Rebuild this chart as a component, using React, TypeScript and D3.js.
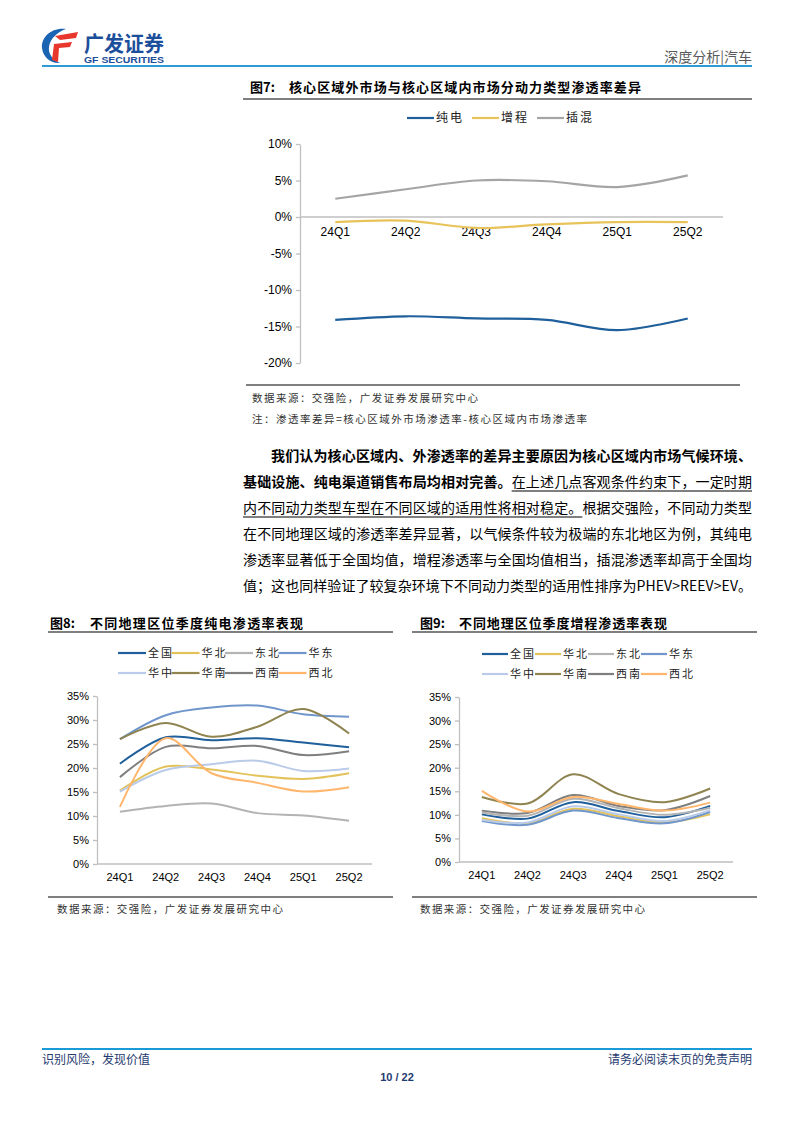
import React, { useEffect, useRef } from 'react';
import * as d3 from 'd3';

// page is photographed at 794 x 1123
const PAGE_W = 794;
const PAGE_H = 1123;

const quarters = ['24Q1', '24Q2', '24Q3', '24Q4', '25Q1', '25Q2'];

// fig 7: difference of penetration rate (outside core - inside core), %
const fig7Ticks = [10, 5, 0, -5, -10, -15, -20];
const diffBev = [-14.1, -13.6, -13.9, -14.1, -15.5, -13.9];
const diffErev = [-0.7, -0.5, -1.5, -1.0, -0.7, -0.7];
const diffPhev = [2.5, 3.8, 5.0, 4.9, 4.1, 5.7];
const fig7Names = ['纯电', '增程', '插混'];
const fig7Colors = ['#1f5f9b', '#e8c35a', '#a5a5a5'];

// fig 8 / fig 9 share regions and colours
const regions = ['全国', '华北', '东北', '华东', '华中', '华南', '西南', '西北'];
const regionColors = ['#1f5f9b', '#e3c25a', '#b3b3b3', '#7096cb', '#b9cbe8', '#8f8350', '#7f7f7f', '#ffb66c'];
const regionTicks = [35, 30, 25, 20, 15, 10, 5, 0];

// fig 8: BEV penetration by region, %
const evNation = [20.9, 26.4, 25.8, 26.2, 25.3, 24.3];
const evNorth = [15.3, 20.3, 19.7, 18.4, 17.7, 18.9];
const evNortheast = [10.9, 12.1, 12.6, 10.6, 10.1, 9.0];
const evEast = [26.0, 31.0, 32.6, 33.0, 31.2, 30.7];
const evCentral = [15.1, 19.6, 20.8, 21.5, 19.4, 19.9];
const evSouth = [26.0, 29.4, 26.5, 28.6, 32.3, 27.2];
const evSouthwest = [18.1, 24.4, 24.1, 24.6, 22.7, 23.5];
const evNorthwest = [11.9, 26.2, 18.9, 16.9, 15.1, 16.0];

// fig 9: EREV penetration by region, %
const reevNation = [10.1, 9.2, 12.7, 10.8, 9.5, 11.9];
const reevNorth = [9.3, 8.2, 11.3, 9.7, 8.4, 10.1];
const reevNortheast = [10.5, 9.8, 13.4, 11.4, 10.0, 11.5];
const reevEast = [8.7, 7.9, 10.9, 9.3, 8.2, 10.6];
const reevCentral = [8.9, 8.4, 11.8, 10.1, 8.7, 11.0];
const reevSouth = [13.8, 12.4, 18.6, 14.4, 12.7, 15.6];
const reevSouthwest = [10.9, 10.4, 14.2, 11.9, 11.0, 14.0];
const reevNorthwest = [15.1, 10.7, 13.8, 12.3, 10.9, 12.6];

const CJK = '"Noto Sans CJK SC", "Noto Sans", sans-serif';
const LATIN = '"Liberation Sans", Arial, sans-serif';
const AXIS = '#bfbfbf';

interface Series { name: string; color: string; values: number[] }

interface PanelCfg {
  left: number; right: number; top: number; bottom: number;
  domain: [number, number];
  ticks: number[];
  series: Series[];
  tickSize: number;
  catGap: number;
  strokeWidth: number;
}

function drawPanel(root: d3.Selection<SVGSVGElement, unknown, null, undefined>, cfg: PanelCfg) {
  const x = d3.scalePoint<string>().domain(quarters).range([cfg.left, cfg.right]).padding(0.5);
  const y = d3.scaleLinear().domain(cfg.domain).range([cfg.bottom, cfg.top]);
  const g = root.append('g');

  g.append('g')
    .attr('transform', `translate(${cfg.left},0)`)
    .call(d3.axisLeft(y).tickValues(cfg.ticks).tickSize(4).tickSizeOuter(0).tickFormat(d => `${d}%`))
    .call(s => s.select('.domain').attr('stroke', AXIS).attr('stroke-width', 1.3))
    .call(s => s.selectAll('.tick line').attr('stroke', AXIS).attr('stroke-width', 1.3))
    .call(s => s.selectAll('.tick text')
      .attr('x', -8)
      .attr('font-size', cfg.tickSize)
      .attr('font-family', LATIN)
      .attr('fill', '#000'));

  // category axis sits on the zero line
  g.append('line')
    .attr('x1', cfg.left).attr('x2', cfg.right)
    .attr('y1', y(0)).attr('y2', y(0))
    .attr('stroke', AXIS).attr('stroke-width', 1.3);

  g.selectAll('.cat')
    .data(quarters)
    .enter()
    .append('text')
    .attr('x', d => x(d) || 0)
    .attr('y', y(0) + cfg.catGap)
    .attr('text-anchor', 'middle')
    .attr('font-size', cfg.tickSize)
    .attr('font-family', LATIN)
    .text(d => d);

  const line = d3.line<number>()
    .x((_, i) => x(quarters[i]) || 0)
    .y(d => y(d))
    .curve(d3.curveCatmullRom.alpha(0.5));

  g.selectAll('.series')
    .data(cfg.series)
    .enter()
    .append('path')
    .attr('d', d => line(d.values))
    .attr('fill', 'none')
    .attr('stroke', d => d.color)
    .attr('stroke-width', cfg.strokeWidth);
}

function drawLegend(
  root: d3.Selection<SVGSVGElement, unknown, null, undefined>,
  names: string[], colors: string[], x0: number, y0: number, step: number, perRow: number, lineLen: number, rowGap: number, fontSize: number
) {
  names.forEach((name, i) => {
    const lx = x0 + (i % perRow) * step;
    const ly = y0 + Math.floor(i / perRow) * rowGap;
    root.append('line')
      .attr('x1', lx).attr('x2', lx + lineLen)
      .attr('y1', ly).attr('y2', ly)
      .attr('stroke', colors[i]).attr('stroke-width', 2.2);
    root.append('text')
      .attr('x', lx + lineLen + 2)
      .attr('y', ly + fontSize * 0.36)
      .attr('font-size', fontSize)
      .attr('font-family', CJK)
      .attr('letter-spacing', 2)
      .attr('fill', '#222')
      .text(name);
  });
}

function spanText(
  root: d3.Selection<SVGSVGElement, unknown, null, undefined>,
  x: number, y: number, width: number, size: number, txt: string, color = '#000', weight = 'normal'
) {
  root.append('text')
    .attr('x', x).attr('y', y)
    .attr('font-size', size)
    .attr('font-family', CJK)
    .attr('font-weight', weight)
    .attr('fill', color)
    .attr('textLength', width)
    .attr('lengthAdjust', 'spacing')
    .text(txt);
}

// paragraph lines: each part is [text, bold, underline]
const paraLines: [string, boolean, boolean][][] = [
  [['我们认为核心区域内、外渗透率的差异主要原因为核心区域内市场气候环境、', true, false]],
  [['基础设施、纯电渠道销售布局均相对完善。', true, false], ['在上述几点客观条件约束下，一定时期', false, true]],
  [['内不同动力类型车型在不同区域的适用性将相对稳定。', false, true], ['根据交强险，不同动力类型', false, false]],
  [['在不同地理区域的渗透率差异显著，以气候条件较为极端的东北地区为例，其纯电', false, false]],
  [['渗透率显著低于全国均值，增程渗透率与全国均值相当，插混渗透率却高于全国均', false, false]],
  [['值；这也同样验证了较复杂环境下不同动力类型的适用性排序为PHEV>REEV>EV。', false, false]],
];

const App: React.FC = () => {
  const svgRef = useRef<SVGSVGElement>(null);

  useEffect(() => {
    if (!svgRef.current) return;
    const svg = d3.select(svgRef.current);
    svg.selectAll('*').remove();

    // ---------- header ----------
    const logo = svg.append('g');
    logo.append('path')
      .attr('d', 'M66,29 C52,27 41,37 42,48 C43,58 52,64 60,63 C53,60 48,54 49,47 C50,39 57,32 66,29 Z')
      .attr('fill', '#1a64b4');
    logo.append('path')
      .attr('d', 'M55,36 L78,32 L76,38 L60,40 Z M54,44 L72,42 L70,47 L59,48 L58,62 L52,60 Z')
      .attr('fill', '#e8372c');
    logo.append('text')
      .attr('x', 84).attr('y', 51)
      .attr('font-size', 21).attr('font-weight', 'bold')
      .attr('font-family', CJK).attr('fill', '#1b4e9b')
      .attr('textLength', 80).attr('lengthAdjust', 'spacingAndGlyphs')
      .text('广发证券');
    logo.append('text')
      .attr('x', 84).attr('y', 63)
      .attr('font-size', 9).attr('font-weight', 'bold')
      .attr('font-family', LATIN).attr('fill', '#1b4e9b')
      .attr('textLength', 80).attr('lengthAdjust', 'spacingAndGlyphs')
      .text('GF SECURITIES');
    svg.append('text')
      .attr('x', 752).attr('y', 62)
      .attr('text-anchor', 'end')
      .attr('font-size', 14).attr('font-family', CJK).attr('fill', '#595959')
      .text('深度分析|汽车');
    svg.append('line')
      .attr('x1', 42).attr('x2', 752).attr('y1', 66).attr('y2', 66)
      .attr('stroke', '#2e9bd6').attr('stroke-width', 2);

    // ---------- figure 7 ----------
    svg.append('text')
      .attr('x', 250).attr('y', 92)
      .attr('font-size', 13).attr('font-weight', 'bold').attr('font-family', CJK)
      .text('图7:');
    spanText(svg, 289, 92, 352, 13, '核心区域外市场与核心区域内市场分动力类型渗透率差异', '#000', 'bold');
    svg.append('line')
      .attr('x1', 243).attr('x2', 752).attr('y1', 99).attr('y2', 99)
      .attr('stroke', '#000').attr('stroke-width', 1.2);

    drawLegend(svg, fig7Names, fig7Colors, 407, 118, 65, 3, 27, 0, 12);

    drawPanel(svg, {
      left: 300, right: 723, top: 144, bottom: 363,
      domain: [-20, 10],
      ticks: fig7Ticks,
      series: fig7Names.map((name, i) => ({ name, color: fig7Colors[i], values: [diffBev, diffErev, diffPhev][i] })),
      tickSize: 12,
      catGap: 19,
      strokeWidth: 2.2,
    });

    svg.append('line')
      .attr('x1', 246).attr('x2', 740).attr('y1', 385).attr('y2', 385)
      .attr('stroke', '#000').attr('stroke-width', 1.2);
    spanText(svg, 252, 402, 226, 10.5, '数据来源：交强险，广发证券发展研究中心', '#333');
    spanText(svg, 252, 423, 335, 10.5, '注：渗透率差异=核心区域外市场渗透率-核心区域内市场渗透率', '#333');

    // ---------- paragraph ----------
    const paraLeft = 243;
    const paraRight = 752;
    paraLines.forEach((parts, li) => {
      const x0 = li === 0 ? 271 : paraLeft;
      const y0 = 461 + li * 26;
      const width = paraRight - x0;
      const total = parts.reduce((n, p) => n + p[0].length, 0);
      const t = svg.append('text')
        .attr('x', x0).attr('y', y0)
        .attr('font-size', 14)
        .attr('font-family', CJK)
        .attr('textLength', width)
        .attr('lengthAdjust', 'spacing');
      let idx = 0;
      parts.forEach(([txt, bold, under]) => {
        t.append('tspan').attr('font-weight', bold ? 'bold' : 'normal').text(txt);
        if (under && li !== 5) {
          const per = width / total;
          svg.append('line')
            .attr('x1', x0 + idx * per).attr('x2', x0 + (idx + txt.length) * per)
            .attr('y1', y0 + 4).attr('y2', y0 + 4)
            .attr('stroke', '#000').attr('stroke-width', 1.2);
        }
        idx += txt.length;
      });
    });

    // ---------- figure 8 ----------
    svg.append('text')
      .attr('x', 50).attr('y', 628)
      .attr('font-size', 13).attr('font-weight', 'bold').attr('font-family', CJK)
      .text('图8:');
    spanText(svg, 90, 628, 213, 13, '不同地理区位季度纯电渗透率表现', '#000', 'bold');
    svg.append('line')
      .attr('x1', 48).attr('x2', 393).attr('y1', 632).attr('y2', 632)
      .attr('stroke', '#000').attr('stroke-width', 1.2);
    drawLegend(svg, regions, regionColors, 118, 653, 53.5, 4, 28, 20, 11);
    drawPanel(svg, {
      left: 97, right: 372, top: 696, bottom: 864,
      domain: [0, 35],
      ticks: regionTicks,
      series: regions.map((name, i) => ({
        name, color: regionColors[i],
        values: [evNation, evNorth, evNortheast, evEast, evCentral, evSouth, evSouthwest, evNorthwest][i],
      })),
      tickSize: 11,
      catGap: 17,
      strokeWidth: 2,
    });
    svg.append('line')
      .attr('x1', 48).attr('x2', 393).attr('y1', 897).attr('y2', 897)
      .attr('stroke', '#000').attr('stroke-width', 1.2);
    spanText(svg, 57, 913, 226, 10.5, '数据来源：交强险，广发证券发展研究中心', '#333');

    // ---------- figure 9 ----------
    svg.append('text')
      .attr('x', 420).attr('y', 628)
      .attr('font-size', 13).attr('font-weight', 'bold').attr('font-family', CJK)
      .text('图9:');
    spanText(svg, 459, 628, 208, 13, '不同地理区位季度增程渗透率表现', '#000', 'bold');
    svg.append('line')
      .attr('x1', 412).attr('x2', 757).attr('y1', 632).attr('y2', 632)
      .attr('stroke', '#000').attr('stroke-width', 1.2);
    drawLegend(svg, regions, regionColors, 482, 654, 53, 4, 26, 20, 11);
    drawPanel(svg, {
      left: 459, right: 733, top: 697, bottom: 862,
      domain: [0, 35],
      ticks: regionTicks,
      series: regions.map((name, i) => ({
        name, color: regionColors[i],
        values: [reevNation, reevNorth, reevNortheast, reevEast, reevCentral, reevSouth, reevSouthwest, reevNorthwest][i],
      })),
      tickSize: 11,
      catGap: 17,
      strokeWidth: 2,
    });
    svg.append('line')
      .attr('x1', 412).attr('x2', 757).attr('y1', 897).attr('y2', 897)
      .attr('stroke', '#000').attr('stroke-width', 1.2);
    spanText(svg, 420, 913, 225, 10.5, '数据来源：交强险，广发证券发展研究中心', '#333');

    // ---------- footer ----------
    svg.append('line')
      .attr('x1', 42).attr('x2', 752).attr('y1', 1049).attr('y2', 1049)
      .attr('stroke', '#1a9ad6').attr('stroke-width', 2);
    svg.append('text')
      .attr('x', 42).attr('y', 1064)
      .attr('font-size', 12).attr('font-family', CJK).attr('fill', '#1f3b70')
      .text('识别风险，发现价值');
    svg.append('text')
      .attr('x', 752).attr('y', 1064)
      .attr('text-anchor', 'end')
      .attr('font-size', 12).attr('font-family', CJK).attr('fill', '#1f3b70')
      .text('请务必阅读末页的免责声明');
    svg.append('text')
      .attr('x', 397).attr('y', 1081)
      .attr('text-anchor', 'middle')
      .attr('font-size', 11).attr('font-weight', 'bold').attr('font-family', LATIN).attr('fill', '#1f3b70')
      .text('10 / 22');
  }, []);

  return (
    <svg
      ref={svgRef}
      width={PAGE_W}
      height={PAGE_H}
      style={{ position: 'absolute', left: 0, top: 0, background: '#fff' }}
    />
  );
};

export default App;
